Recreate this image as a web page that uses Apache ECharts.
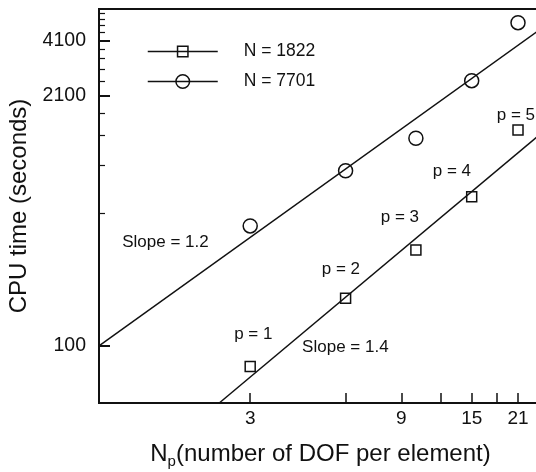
<!DOCTYPE html>
<html><head><meta charset="utf-8">
<script src="https://cdn.jsdelivr.net/npm/echarts@6/dist/echarts.min.js"></script>
<style>html,body{margin:0;padding:0;background:#fff}#c{width:536px;height:472px}</style>
</head><body><div id="c"></div>
<script>
// Data (log-log plot)
const dof = [3, 6, 10, 15, 21];
const cpuN1822 = [77.9, 178.5, 321, 613, 1379];
const cpuN7701 = [430, 841, 1247, 2511, 5080];
// fitted lines (end points)
const fitSlope12X = [1, 25];
const fitSlope12Y = [100, 4759];
const fitSlope14X = [2.396, 25];
const fitSlope14Y = [50, 1334];
// ticks
const xTickValues = [3, 6, 9, 12, 15, 18, 21];
const xLabelValues = [3, 9, 15, 21];
const yMajorValues = [100, 2100, 4100];
const yMinorValues = [500, 900, 1300, 1700, 2500, 2900, 3300, 3700, 4500, 4900, 5300, 5700];
// annotations (in data coordinates)
const annoText = ['p = 1', 'p = 2', 'p = 3', 'p = 4', 'p = 5', 'Slope = 1.2', 'Slope = 1.4'];
const annoX = [3.068, 5.80, 8.90, 12.99, 20.68, 1.621, 5.99];
const annoY = [115.6, 254.7, 479, 838, 1655, 353.7, 98.1];

const FONT = 'Liberation Sans, Arial, sans-serif';
const INK = '#111';
const zip = (a, b) => a.map((v, i) => [v, b[i]]);

const chart = echarts.init(document.getElementById('c'), null, {renderer: 'canvas'});
const markerStyle = {color: 'rgba(0,0,0,0)', borderColor: INK, borderWidth: 1.5, opacity: 1};
const legendCommon = {
  orient: 'vertical', padding: 0, itemWidth: 70,
  textStyle: {fontSize: 17.5, color: INK, fontFamily: FONT, padding: [0, 0, 0, 21]},
  lineStyle: {opacity: 1, width: 1.5, color: INK},
  itemStyle: markerStyle
};
chart.setOption({
  animation: false,
  backgroundColor: '#fff',
  textStyle: {fontFamily: FONT},
  grid: {left: 99, top: 9, width: 443, height: 394, show: true, borderColor: INK, borderWidth: 2,
    backgroundColor: 'transparent', containLabel: false, outerBoundsMode: 'none'},
  legend: [
    Object.assign({}, legendCommon, {data: ['N = 1822'], left: 147, top: 42.5, itemHeight: 13}),
    Object.assign({}, legendCommon, {data: ['N = 7701'], left: 147, top: 72.5, itemHeight: 17})
  ],
  xAxis: {
    type: 'log', min: 1, max: 25, logBase: 10,
    name: '{n|N}{s|p}{n|(number of DOF per element)}',
    nameLocation: 'middle', nameGap: 36,
    nameTextStyle: {rich: {
      n: {fontSize: 24, color: INK, fontFamily: FONT, lineHeight: 30},
      s: {fontSize: 15, color: INK, fontFamily: FONT, lineHeight: 15, padding: [16, 0, 0, 0]}
    }},
    axisLine: {show: true, lineStyle: {color: INK, width: 2}},
    axisTick: {show: true, inside: true, length: 10, customValues: xTickValues, lineStyle: {color: INK, width: 1.5}},
    axisLabel: {show: true, customValues: xLabelValues, margin: 6, fontSize: 19, color: INK, fontFamily: FONT,
      formatter: v => String(Math.round(v))},
    splitLine: {show: false}, minorTick: {show: false}
  },
  yAxis: [{
    type: 'log', min: 50, max: 6000, logBase: 10,
    name: 'CPU time (seconds)', nameLocation: 'middle', nameGap: 62, nameRotate: 90,
    nameTextStyle: {fontSize: 24, color: INK, fontFamily: FONT},
    axisLine: {show: true, lineStyle: {color: INK, width: 2}},
    axisTick: {show: true, inside: true, length: 11, customValues: yMajorValues, lineStyle: {color: INK, width: 2}},
    axisLabel: {show: true, customValues: yMajorValues, margin: 13, fontSize: 19.5, color: INK, fontFamily: FONT,
      formatter: v => String(Math.round(v))},
    splitLine: {show: false}
  }, {
    type: 'log', min: 50, max: 6000, logBase: 10, position: 'left',
    axisLine: {show: false},
    axisTick: {show: true, inside: true, length: 6, customValues: yMinorValues, lineStyle: {color: INK, width: 1.2}},
    axisLabel: {show: false},
    splitLine: {show: false}
  }],
  series: [
    {name: 'Slope 1.2 fit', type: 'line', data: zip(fitSlope12X, fitSlope12Y), symbol: 'none',
      lineStyle: {color: INK, width: 1.5}, z: 3, silent: true},
    {name: 'Slope 1.4 fit', type: 'line', data: zip(fitSlope14X, fitSlope14Y), symbol: 'none',
      lineStyle: {color: INK, width: 1.5}, z: 3, silent: true},
    {name: 'N = 1822', type: 'line', data: zip(dof, cpuN1822), symbol: 'rect', symbolSize: 10,
      itemStyle: markerStyle, lineStyle: {opacity: 0}, z: 5},
    {name: 'N = 7701', type: 'line', data: zip(dof, cpuN7701), symbol: 'circle', symbolSize: 14,
      itemStyle: markerStyle, lineStyle: {opacity: 0}, z: 5},
    {name: 'annotations', type: 'scatter', symbolSize: 0, silent: true,
      itemStyle: {opacity: 1},
      data: annoText.map((t, i) => ({name: t, value: [annoX[i], annoY[i]]})),
      label: {show: true, position: 'inside', formatter: '{b}', fontSize: 17, color: INK, opacity: 1, fontFamily: FONT}}
  ]
});
</script></body></html>
